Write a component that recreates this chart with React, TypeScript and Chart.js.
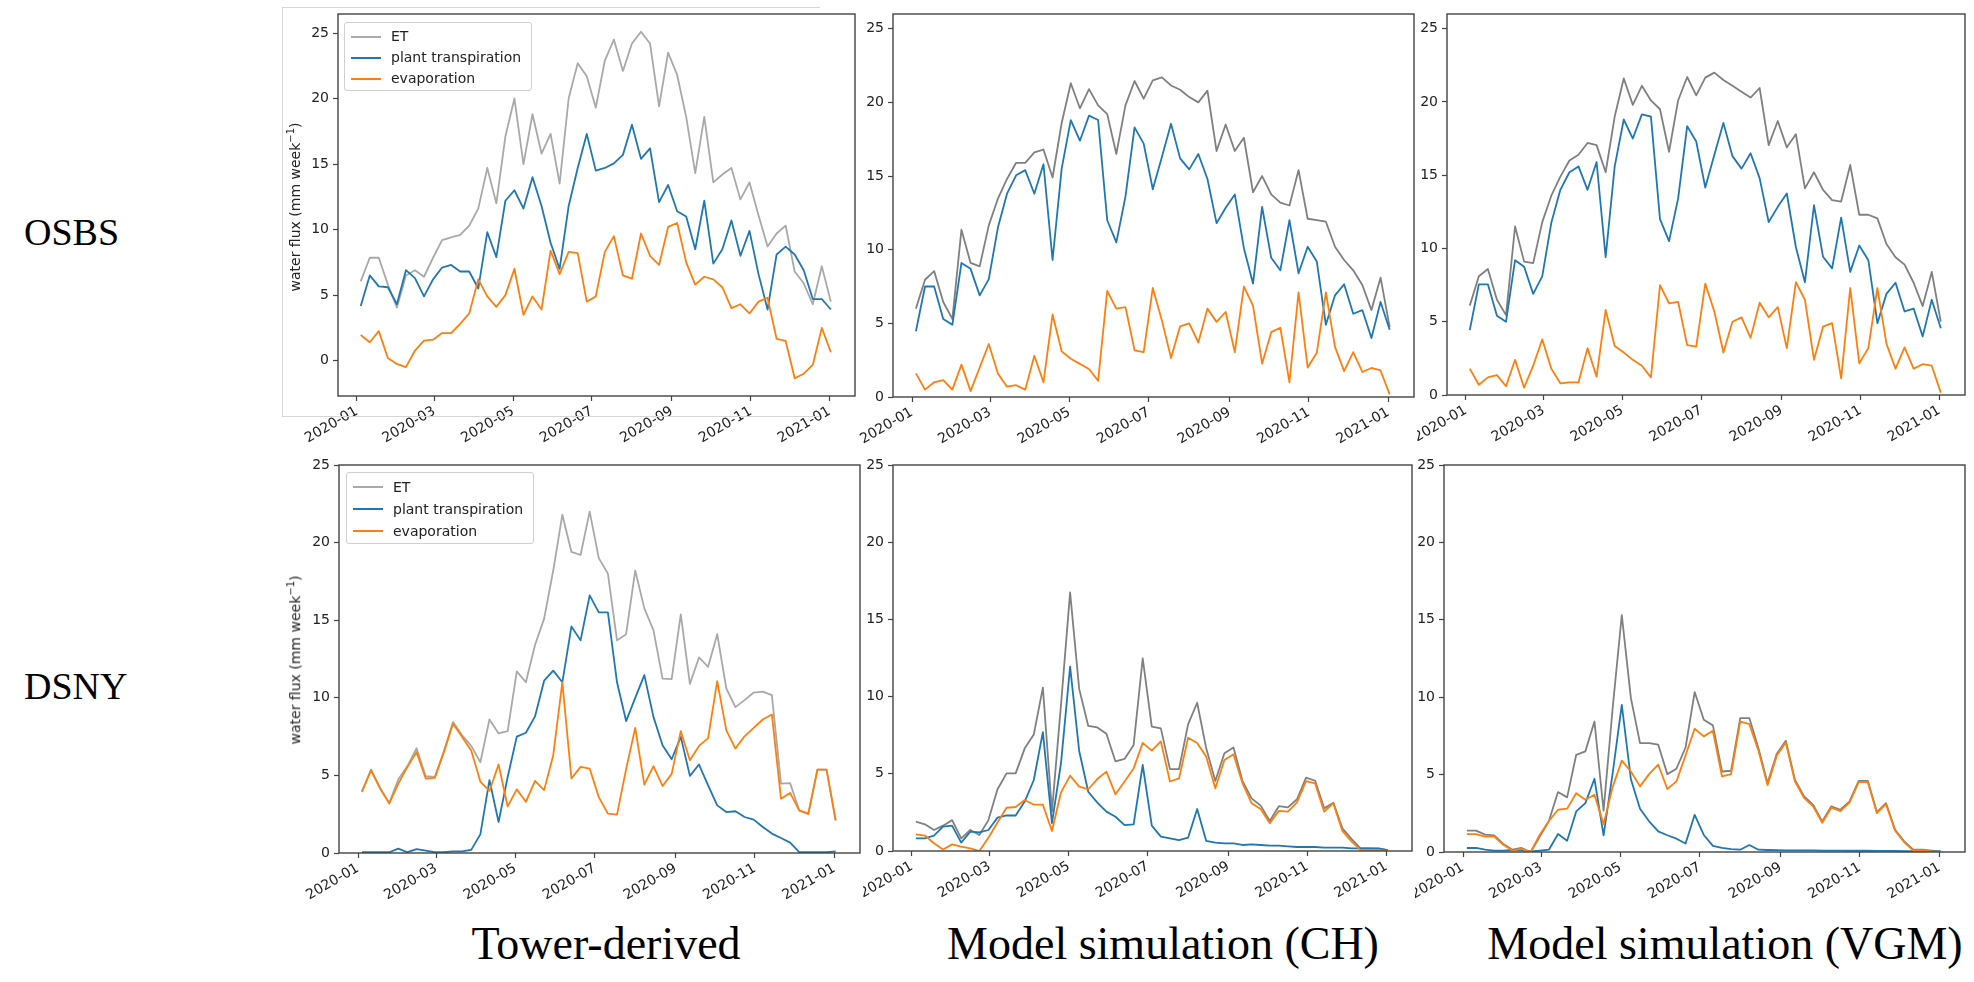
import React, { useEffect, useRef } from "react";
import { Chart, registerables } from "chart.js";

Chart.register(...registerables);

// ---------- data ----------
const weekDates = [
  "2020-01-04", "2020-01-11", "2020-01-18", "2020-01-25",
  "2020-02-01", "2020-02-08", "2020-02-15", "2020-02-22", "2020-02-29",
  "2020-03-07", "2020-03-14", "2020-03-21", "2020-03-28",
  "2020-04-04", "2020-04-11", "2020-04-18", "2020-04-25",
  "2020-05-02", "2020-05-09", "2020-05-16", "2020-05-23", "2020-05-30",
  "2020-06-06", "2020-06-13", "2020-06-20", "2020-06-27",
  "2020-07-04", "2020-07-11", "2020-07-18", "2020-07-25",
  "2020-08-01", "2020-08-08", "2020-08-15", "2020-08-22", "2020-08-29",
  "2020-09-05", "2020-09-12", "2020-09-19", "2020-09-26",
  "2020-10-03", "2020-10-10", "2020-10-17", "2020-10-24", "2020-10-31",
  "2020-11-07", "2020-11-14", "2020-11-21", "2020-11-28",
  "2020-12-05", "2020-12-12", "2020-12-19", "2020-12-26",
  "2021-01-02",
];

const tickDates = ["2020-01-01", "2020-03-01", "2020-05-01", "2020-07-01", "2020-09-01", "2020-11-01", "2021-01-01"];
const tickLabels = ["2020-01", "2020-03", "2020-05", "2020-07", "2020-09", "2020-11", "2021-01"];
const yTickValues = [0, 5, 10, 15, 20, 25];

const seriesLabels = ["ET", "plant transpiration", "evaporation"];
const rowLabels = ["OSBS", "DSNY"];
const colLabels = ["Tower-derived", "Model simulation (CH)", "Model simulation (VGM)"];
const yAxisTitle = "water flux (mm week";

// OSBS, tower-derived
const osbsTowerET = [6.05, 7.85, 7.85, 5.8, 4.05, 6.5, 6.9, 6.4, 7.85, 9.2, 9.4, 9.6, 10.3, 11.6, 14.7, 12.0, 17.1, 20.0, 15.0, 18.8, 15.8, 17.3, 13.5, 20.0, 22.7, 21.7, 19.3, 22.9, 24.5, 22.1, 24.2, 25.1, 24.2, 19.4, 23.5, 21.8, 18.6, 14.3, 18.6, 13.6, 14.2, 14.7, 12.3, 13.6, 11.1, 8.7, 9.7, 10.3, 6.8, 5.9, 4.3, 7.2, 4.5];
const osbsTowerT = [4.16, 6.5, 5.66, 5.6, 4.3, 6.9, 6.3, 4.9, 6.2, 7.1, 7.3, 6.8, 6.8, 5.5, 9.8, 7.9, 12.2, 13.0, 11.6, 14.0, 11.8, 9.0, 7.0, 11.8, 14.7, 17.3, 14.5, 14.7, 15.05, 15.7, 18.0, 15.4, 16.2, 12.1, 13.4, 11.4, 11.0, 8.5, 12.2, 7.4, 8.5, 10.7, 8.0, 9.9, 6.6, 3.9, 8.1, 8.7, 8.1, 6.9, 4.7, 4.7, 3.9];
const osbsTowerE = [1.96, 1.4, 2.25, 0.2, -0.25, -0.5, 0.77, 1.53, 1.6, 2.1, 2.1, 2.8, 3.6, 6.2, 4.9, 4.1, 5.0, 7.0, 3.5, 4.9, 3.9, 8.4, 6.6, 8.3, 8.2, 4.5, 4.9, 8.3, 9.5, 6.5, 6.25, 9.7, 8.0, 7.3, 10.2, 10.5, 7.5, 5.8, 6.4, 6.2, 5.6, 4.0, 4.3, 3.6, 4.5, 4.8, 1.66, 1.5, -1.35, -1.0, -0.33, 2.5, 0.64];

// OSBS, model CH
const osbsChET = [6.0, 7.96, 8.55, 6.45, 5.3, 11.36, 9.1, 8.87, 11.65, 13.46, 14.8, 15.9, 15.9, 16.6, 16.8, 14.9, 18.6, 21.3, 19.6, 20.9, 19.8, 19.2, 16.5, 19.8, 21.45, 20.25, 21.5, 21.7, 21.15, 20.86, 20.36, 20.0, 20.8, 16.7, 18.5, 16.7, 17.6, 13.9, 15.0, 13.75, 13.2, 13.0, 15.4, 12.1, 12.0, 11.9, 10.2, 9.3, 8.6, 7.6, 5.9, 8.1, 4.75];
const osbsChT = [4.46, 7.5, 7.5, 5.3, 4.9, 9.1, 8.7, 6.9, 8.0, 11.5, 13.8, 15.05, 15.4, 13.8, 15.8, 9.3, 15.5, 18.8, 17.4, 19.1, 18.8, 12.0, 10.5, 13.6, 18.3, 17.2, 14.1, 16.3, 18.55, 16.2, 15.45, 16.5, 14.8, 11.8, 12.85, 13.75, 10.1, 7.7, 12.9, 9.45, 8.6, 12.0, 8.4, 10.2, 9.2, 4.9, 6.9, 7.65, 5.65, 5.9, 4.0, 6.45, 4.57];
const osbsChE = [1.6, 0.5, 1.0, 1.15, 0.5, 2.2, 0.4, 2.0, 3.6, 1.6, 0.7, 0.8, 0.5, 2.8, 1.0, 5.6, 3.1, 2.6, 2.25, 1.9, 1.1, 7.2, 6.0, 6.1, 3.17, 3.05, 7.4, 5.2, 2.65, 4.8, 5.0, 3.7, 6.0, 5.1, 5.77, 3.05, 7.5, 6.2, 2.26, 4.4, 4.7, 1.0, 7.1, 2.0, 3.0, 7.1, 3.4, 1.76, 3.05, 1.7, 1.97, 1.8, 0.18];

// OSBS, model VGM
const osbsVgmET = [6.1, 8.1, 8.6, 6.5, 5.45, 11.5, 9.1, 9.0, 11.8, 13.6, 14.9, 16.0, 16.4, 17.2, 17.05, 15.2, 19.0, 21.6, 19.8, 21.1, 20.1, 19.5, 16.6, 20.1, 21.7, 20.45, 21.66, 22.0, 21.5, 21.1, 20.7, 20.3, 20.95, 17.05, 18.7, 16.9, 17.8, 14.1, 15.2, 14.0, 13.3, 13.2, 15.7, 12.3, 12.3, 12.05, 10.3, 9.4, 8.9, 7.66, 6.07, 8.4, 5.0];
const osbsVgmT = [4.43, 7.55, 7.55, 5.4, 5.0, 9.2, 8.75, 6.9, 8.1, 11.75, 14.0, 15.2, 15.6, 14.0, 15.9, 9.4, 15.6, 18.8, 17.5, 19.15, 19.0, 12.0, 10.5, 13.4, 18.35, 17.3, 14.16, 16.4, 18.57, 16.3, 15.45, 16.5, 14.8, 11.8, 12.84, 13.75, 10.1, 7.7, 12.95, 9.43, 8.64, 12.1, 8.4, 10.2, 9.2, 4.9, 6.9, 7.66, 5.7, 5.9, 4.0, 6.5, 4.55];
const osbsVgmE = [1.8, 0.7, 1.2, 1.36, 0.6, 2.4, 0.5, 2.0, 3.8, 1.8, 0.8, 0.86, 0.86, 3.2, 1.25, 5.8, 3.34, 2.9, 2.4, 2.0, 1.2, 7.5, 6.25, 6.36, 3.4, 3.3, 7.6, 5.7, 2.9, 5.0, 5.3, 3.9, 6.3, 5.3, 6.0, 3.2, 7.7, 6.5, 2.4, 4.66, 4.9, 1.14, 7.3, 2.16, 3.2, 7.3, 3.5, 1.8, 3.25, 1.8, 2.1, 2.0, 0.16];

// DSNY, tower-derived
const dsnyTowerET = [3.98, 5.38, 4.2, 3.23, 4.75, 5.6, 6.75, 4.95, 4.9, 6.55, 8.44, 7.58, 6.9, 5.85, 8.6, 7.7, 7.85, 11.7, 11.0, 13.4, 15.1, 18.2, 21.8, 19.4, 19.2, 22.0, 19.0, 18.0, 13.7, 14.1, 18.2, 15.76, 14.36, 11.24, 11.2, 15.37, 10.9, 12.6, 12.0, 14.1, 10.6, 9.4, 9.85, 10.34, 10.4, 10.17, 4.47, 4.5, 2.75, 2.5, 5.37, 5.37, 2.1];
const dsnyTowerT = [0.05, 0.05, 0.05, 0.05, 0.28, 0.05, 0.25, 0.15, 0.05, 0.05, 0.1, 0.1, 0.2, 1.2, 4.7, 2.0, 4.9, 7.5, 7.75, 8.8, 11.1, 11.75, 11.0, 14.6, 13.7, 16.6, 15.5, 15.5, 11.0, 8.5, 10.0, 11.46, 8.77, 6.94, 6.04, 7.48, 4.97, 5.7, 4.36, 3.07, 2.64, 2.69, 2.32, 2.15, 1.68, 1.25, 0.97, 0.67, 0.06, 0.05, 0.05, 0.05, 0.1];
const dsnyTowerE = [3.93, 5.33, 4.15, 3.18, 4.47, 5.55, 6.5, 4.8, 4.84, 6.5, 8.34, 7.48, 6.6, 4.6, 4.0, 5.7, 3.0, 4.1, 3.3, 4.65, 4.05, 6.3, 11.0, 4.8, 5.55, 5.44, 3.6, 2.54, 2.47, 5.4, 8.06, 4.4, 5.6, 4.32, 5.1, 7.85, 5.98, 6.9, 7.4, 11.07, 7.9, 6.73, 7.52, 8.06, 8.6, 8.92, 3.5, 3.87, 2.75, 2.54, 5.37, 5.37, 2.1];

// DSNY, model CH
const dsnyChET = [1.9, 1.73, 1.36, 1.64, 2.0, 0.82, 1.36, 1.04, 2.0, 4.0, 5.03, 5.03, 6.65, 7.55, 10.58, 2.55, 9.5, 16.75, 10.5, 8.1, 8.0, 7.6, 5.8, 5.96, 6.87, 12.48, 8.05, 7.94, 5.3, 5.3, 8.2, 9.6, 6.65, 4.53, 6.33, 6.7, 4.53, 3.41, 2.94, 1.94, 2.9, 2.83, 3.35, 4.75, 4.55, 2.76, 3.13, 1.47, 0.78, 0.17, 0.17, 0.17, 0.06];
const dsnyChT = [0.82, 0.82, 1.0, 1.58, 1.64, 0.54, 1.25, 1.2, 1.36, 2.16, 2.3, 2.3, 3.2, 4.6, 7.7, 1.8, 5.7, 11.94, 6.48, 3.84, 3.13, 2.55, 2.22, 1.68, 1.73, 5.57, 1.64, 0.93, 0.82, 0.71, 0.86, 2.72, 0.65, 0.54, 0.5, 0.5, 0.39, 0.43, 0.39, 0.35, 0.35, 0.3, 0.26, 0.26, 0.26, 0.22, 0.22, 0.22, 0.17, 0.17, 0.17, 0.15, 0.06];
const dsnyChE = [1.08, 1.0, 0.5, 0.1, 0.43, 0.28, 0.17, 0.0, 0.86, 1.85, 2.8, 2.85, 3.3, 3.0, 3.0, 1.3, 3.8, 4.88, 4.17, 4.0, 4.66, 5.14, 3.67, 4.5, 5.35, 7.0, 6.5, 7.1, 4.5, 4.7, 7.34, 7.0, 6.1, 4.06, 5.9, 6.26, 4.38, 3.1, 2.72, 1.8, 2.6, 2.55, 3.15, 4.53, 4.38, 2.55, 3.1, 1.3, 0.62, 0.06, 0.06, 0.06, 0.0];

// DSNY, model VGM
const dsnyVgmET = [1.38, 1.38, 1.12, 1.08, 0.52, 0.15, 0.26, 0.0, 1.0, 2.0, 3.87, 3.53, 6.28, 6.5, 8.43, 2.67, 9.3, 15.3, 9.94, 7.03, 7.03, 6.93, 5.03, 5.38, 6.75, 10.33, 8.54, 8.18, 5.2, 5.25, 8.65, 8.65, 6.7, 4.45, 6.33, 7.19, 4.67, 3.6, 3.05, 1.98, 2.95, 2.73, 3.27, 4.6, 4.6, 2.58, 3.16, 1.44, 0.69, 0.15, 0.15, 0.09, 0.04];
const dsnyVgmT = [0.26, 0.26, 0.15, 0.09, 0.09, 0.13, 0.1, 0.04, 0.09, 0.15, 1.16, 0.73, 2.62, 3.16, 4.73, 1.08, 5.1, 9.5, 4.7, 2.8, 1.98, 1.33, 1.08, 0.86, 0.55, 2.4, 1.1, 0.4, 0.26, 0.19, 0.15, 0.45, 0.15, 0.13, 0.12, 0.11, 0.1, 0.1, 0.1, 0.09, 0.09, 0.09, 0.08, 0.08, 0.08, 0.07, 0.07, 0.07, 0.06, 0.06, 0.05, 0.05, 0.04];
const dsnyVgmE = [1.16, 1.16, 1.0, 1.0, 0.47, 0.09, 0.2, 0.0, 1.12, 2.0, 2.73, 2.8, 3.8, 3.38, 3.7, 1.8, 4.2, 5.9, 5.2, 4.24, 5.03, 5.64, 4.07, 4.56, 6.25, 7.96, 7.47, 7.83, 4.88, 5.03, 8.43, 8.26, 6.55, 4.32, 6.21, 7.08, 4.57, 3.5, 2.95, 1.89, 2.86, 2.64, 3.19, 4.52, 4.52, 2.51, 3.09, 1.37, 0.63, 0.09, 0.1, 0.04, 0.0];

// ---------- styling / layout ----------
const TOWER_ET = "#a9a9a9";
const MODEL_ET = "#808080";
const BLUE = "#1f77b4";
const ORANGE = "#ff7f0e";
const TICK_FONT = { family: "DejaVu Sans", size: 14 };
const TEXT_COLOR = "#222222";
const SPINE = "#444444";

const YW = 62; // y-axis box width
const XH = 62; // x-axis box height
const PT = 8;  // top padding
const PR = 3;  // right padding
const X_MIN = -14.6;
const X_MAX = 385.7;

type PanelCfg = {
  key: string;
  l: number; r: number; t: number; b: number;
  ymin: number; ymax: number;
  et: number[]; tr: number[]; ev: number[];
  etColor: string;
  z: number;
};

const panels: PanelCfg[] = [
  { key: "osbs-tower", l: 338, r: 855, t: 14, b: 396, ymin: -2.7, ymax: 26.45, et: osbsTowerET, tr: osbsTowerT, ev: osbsTowerE, etColor: TOWER_ET, z: 3 },
  { key: "osbs-ch", l: 893, r: 1414, t: 14, b: 397, ymin: 0, ymax: 26, et: osbsChET, tr: osbsChT, ev: osbsChE, etColor: MODEL_ET, z: 2 },
  { key: "osbs-vgm", l: 1447, r: 1965, t: 14, b: 395, ymin: 0, ymax: 26, et: osbsVgmET, tr: osbsVgmT, ev: osbsVgmE, etColor: MODEL_ET, z: 1 },
  { key: "dsny-tower", l: 339, r: 860, t: 465, b: 853, ymin: 0, ymax: 25, et: dsnyTowerET, tr: dsnyTowerT, ev: dsnyTowerE, etColor: TOWER_ET, z: 3 },
  { key: "dsny-ch", l: 893, r: 1412, t: 465, b: 851, ymin: 0, ymax: 25, et: dsnyChET, tr: dsnyChT, ev: dsnyChE, etColor: MODEL_ET, z: 2 },
  { key: "dsny-vgm", l: 1444, r: 1965, t: 465, b: 852, ymin: 0, ymax: 25, et: dsnyVgmET, tr: dsnyVgmT, ev: dsnyVgmE, etColor: MODEL_ET, z: 1 },
];

const DAY = 86400000;
const t0 = Date.parse("2020-01-01T00:00:00Z");
const toDay = (s: string) => (Date.parse(s + "T00:00:00Z") - t0) / DAY;
const weekDays = weekDates.map(toDay);
const tickDays = tickDates.map(toDay);

const whiteBg = {
  id: "whiteBg",
  beforeDraw(chart: any) {
    const ctx = chart.ctx;
    ctx.save();
    ctx.fillStyle = "#ffffff";
    ctx.fillRect(0, 0, chart.width, chart.height);
    ctx.restore();
  },
};

const frame = {
  id: "frame",
  afterDraw(chart: any) {
    const { left, top, right, bottom } = chart.chartArea;
    const ctx = chart.ctx;
    ctx.save();
    ctx.strokeStyle = SPINE;
    ctx.lineWidth = 1.4;
    ctx.strokeRect(left, top, right - left, bottom - top);
    ctx.restore();
  },
};

function PanelChart({ p }: { p: PanelCfg }) {
  const ref = useRef<HTMLCanvasElement | null>(null);
  const w = p.r - p.l + YW + PR;
  const h = p.b - p.t + PT + XH;

  useEffect(() => {
    if (!ref.current) return;
    const mk = (vals: number[]) => vals.map((v, i) => ({ x: weekDays[i], y: v }));
    const lineStyle = { borderWidth: 1.8, pointRadius: 0, tension: 0, borderJoinStyle: "round" as const, fill: false };
    const chart = new Chart(ref.current, {
      type: "line",
      data: {
        datasets: [
          { label: seriesLabels[0], data: mk(p.et), borderColor: p.etColor, order: 3, ...lineStyle },
          { label: seriesLabels[1], data: mk(p.tr), borderColor: BLUE, order: 2, ...lineStyle },
          { label: seriesLabels[2], data: mk(p.ev), borderColor: ORANGE, order: 1, ...lineStyle },
        ],
      },
      options: {
        animation: false,
        responsive: false,
        maintainAspectRatio: false,
        devicePixelRatio: 1,
        layout: { padding: { left: 0, right: PR, top: PT, bottom: 0 } },
        plugins: { legend: { display: false }, tooltip: { enabled: false }, title: { display: false } },
        scales: {
          x: {
            type: "linear",
            min: X_MIN,
            max: X_MAX,
            afterBuildTicks: (s: any) => { s.ticks = tickDays.map((v) => ({ value: v })); },
            afterFit: (s: any) => { s.height = XH; s.paddingLeft = 0; s.paddingRight = 0; s.paddingTop = 0; s.paddingBottom = 0; },
            ticks: {
              autoSkip: false,
              minRotation: 30,
              maxRotation: 30,
              padding: 2,
              font: TICK_FONT,
              color: TEXT_COLOR,
              callback: (v: any) => { const k = tickDays.indexOf(Number(v)); return k >= 0 ? tickLabels[k] : ""; },
            },
            grid: { display: true, drawOnChartArea: false, drawTicks: true, tickLength: 5, tickColor: SPINE, tickWidth: 1.2, color: SPINE },
            border: { display: false },
          },
          y: {
            type: "linear",
            min: p.ymin,
            max: p.ymax,
            afterBuildTicks: (s: any) => { s.ticks = yTickValues.map((v) => ({ value: v })); },
            afterFit: (s: any) => { s.width = YW; s.paddingTop = 0; s.paddingBottom = 0; s.paddingLeft = 0; s.paddingRight = 0; },
            ticks: { padding: 4, font: TICK_FONT, color: TEXT_COLOR, callback: (v: any) => String(v) },
            grid: { display: true, drawOnChartArea: false, drawTicks: true, tickLength: 5, tickColor: SPINE, tickWidth: 1.2, color: SPINE },
            border: { display: false },
          },
        },
      },
      plugins: [whiteBg, frame],
    } as any);
    return () => chart.destroy();
  }, []);

  return (
    <canvas
      ref={ref}
      width={w}
      height={h}
      style={{ position: "absolute", left: p.l - YW, top: p.t - PT, width: w, height: h, zIndex: p.z }}
    />
  );
}

function Legend({ left, top, rowGap, etColor }: { left: number; top: number; rowGap: number; etColor: string }) {
  const colors = [etColor, BLUE, ORANGE];
  return (
    <div
      style={{
        position: "absolute", left, top, width: 188, height: rowGap * 3 + 6,
        border: "1px solid #d0d0d0", borderRadius: 3, background: "rgba(255,255,255,0.85)",
        zIndex: 10, boxSizing: "border-box",
      }}
    >
      {seriesLabels.map((lab, i) => (
        <div key={lab} style={{ position: "absolute", left: 0, top: 3 + i * rowGap, height: rowGap, width: "100%" }}>
          <div style={{ position: "absolute", left: 6, top: rowGap / 2 - 1, width: 30, height: 2, background: colors[i] }} />
          <div style={{ position: "absolute", left: 46, top: 0, lineHeight: rowGap + "px", fontFamily: "DejaVu Sans", fontSize: 14, color: TEXT_COLOR, whiteSpace: "nowrap" }}>
            {lab}
          </div>
        </div>
      ))}
    </div>
  );
}

function YTitle({ cx, cy }: { cx: number; cy: number }) {
  return (
    <div
      style={{
        position: "absolute", left: cx, top: cy, transform: "translate(-50%, -50%) rotate(-90deg)",
        fontFamily: "DejaVu Sans", fontSize: 14, color: TEXT_COLOR, whiteSpace: "nowrap", zIndex: 10, lineHeight: "16px",
      }}
    >
      {yAxisTitle}
      <sup style={{ fontSize: 10 }}>−1</sup>)
    </div>
  );
}

function BigLabel({ text, cx, cy, size, align }: { text: string; cx: number; cy: number; size: number; align: "left" | "center" }) {
  return (
    <div
      style={{
        position: "absolute", left: cx, top: cy,
        transform: align === "center" ? "translate(-50%, -50%)" : "translate(0, -50%)",
        fontFamily: "'Liberation Serif', 'Times New Roman', serif", fontSize: size, color: "#000",
        whiteSpace: "nowrap", lineHeight: 1, zIndex: 10,
      }}
    >
      {text}
    </div>
  );
}

export default function App() {
  return (
    <div style={{ position: "absolute", left: 0, top: 0, width: 1974, height: 982, background: "#fff", overflow: "hidden" }}>
      {panels.map((p) => (
        <PanelChart key={p.key} p={p} />
      ))}
      {/* faint screenshot frame around the first panel */}
      <div style={{ position: "absolute", left: 282, top: 7, width: 537, height: 408, borderTop: "1px solid #d6d6d6", borderLeft: "1px solid #d6d6d6", borderBottom: "1px solid #d6d6d6", zIndex: 9, pointerEvents: "none" }} />
      <Legend left={344} top={22} rowGap={21} etColor={TOWER_ET} />
      <Legend left={346} top={472} rowGap={22} etColor={TOWER_ET} />
      <YTitle cx={293} cy={207} />
      <YTitle cx={293} cy={660} />
      <BigLabel text={rowLabels[0]} cx={24} cy={232} size={38} align="left" />
      <BigLabel text={rowLabels[1]} cx={24} cy={686} size={38} align="left" />
      <BigLabel text={colLabels[0]} cx={606} cy={944} size={46} align="center" />
      <BigLabel text={colLabels[1]} cx={1163} cy={944} size={46} align="center" />
      <BigLabel text={colLabels[2]} cx={1725} cy={944} size={46} align="center" />
    </div>
  );
}
